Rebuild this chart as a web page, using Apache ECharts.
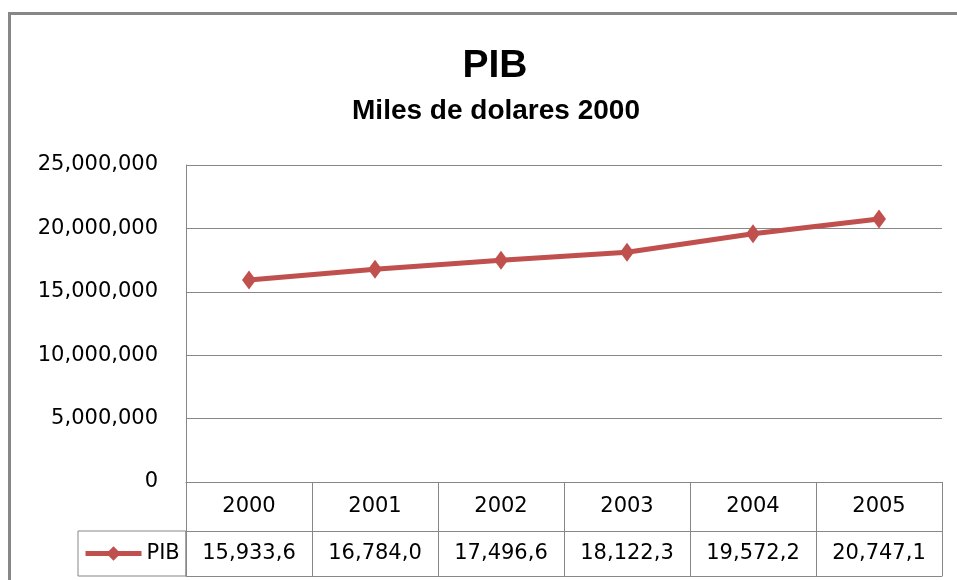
<!DOCTYPE html>
<html>
<head>
<meta charset="utf-8">
<script src="https://cdn.jsdelivr.net/npm/echarts@6/dist/echarts.min.js"></script>
<style>
html,body{margin:0;padding:0;background:#fff;}
#chart{width:957px;height:580px;}
</style>
</head>
<body>
<div id="chart"></div>
<script>
const years = ['2000', '2001', '2002', '2003', '2004', '2005'];
const pib = [15933600, 16784000, 17496600, 18122300, 19572200, 20747100];
const tableLabels = ['15,933,6', '16,784,0', '17,496,6', '18,122,3', '19,572,2', '20,747,1'];
const yTicks = [0, 5000000, 10000000, 15000000, 20000000, 25000000];

const FONT = 'DejaVu Sans';
const TFONT = 'Liberation Sans';
const GRAY = '#878787';

const chart = echarts.init(document.getElementById('chart'), null, {renderer: 'canvas'});
chart.setOption({
  backgroundColor: '#fff',
  animation: false,
  graphic: [{
    type: 'rect', z: -1, silent: true,
    shape: {x: 9.5, y: 13.5, width: 1200, height: 900},
    style: {fill: 'none', stroke: GRAY, lineWidth: 3}
  }],
  title: [{
    text: 'PIB', left: 490, top: 42, textAlign: 'center',
    textStyle: {fontFamily: TFONT, fontSize: 39, fontWeight: 'bold', color: '#000'}
  }, {
    text: 'Miles de dolares 2000', left: 491, top: 92, textAlign: 'center',
    textStyle: {fontFamily: TFONT, fontSize: 28, fontWeight: 'bold', color: '#000'}
  }],
  legend: {
    left: 78, top: 531,
    orient: 'horizontal',
    itemWidth: 56, itemHeight: 18, itemGap: 5,
    padding: [12, 6, 12, 5],
    borderColor: GRAY, borderWidth: 1,
    lineStyle: {width: 5, color: '#C0504D'},
    textStyle: {fontFamily: FONT, fontSize: 21, color: '#000', lineHeight: 21, padding: [0, 0, 0, 0]},
    data: ['PIB']
  },
  grid: {left: 186, right: 15, top: 165, bottom: 98, containLabel: false},
  xAxis: [{
    type: 'category', data: years, position: 'bottom', boundaryGap: true,
    axisLine: {show: true, lineStyle: {color: GRAY, width: 1}},
    axisTick: {show: true, interval: 0, length: 94, inside: false, lineStyle: {color: GRAY, width: 1}},
    axisLabel: {interval: 0, margin: 14, fontFamily: FONT, fontSize: 21, lineHeight: 21, color: '#000'},
    splitLine: {show: false}
  }, {
    type: 'category', data: years, position: 'bottom', offset: 49, boundaryGap: true,
    axisLine: {show: true, lineStyle: {color: GRAY, width: 1}},
    axisTick: {show: false},
    axisLabel: {interval: 0, margin: 12, fontFamily: FONT, fontSize: 21, lineHeight: 21, color: '#000',
      formatter: (v, i) => tableLabels[i]},
    splitLine: {show: false}
  }, {
    type: 'category', data: years, position: 'bottom', offset: 94, boundaryGap: true,
    axisLine: {show: true, lineStyle: {color: GRAY, width: 1}},
    axisTick: {show: false},
    axisLabel: {show: false},
    splitLine: {show: false}
  }],
  yAxis: {
    type: 'value', min: 0, max: 25000000, interval: 5000000,
    axisLine: {show: true, lineStyle: {color: GRAY, width: 1}},
    axisTick: {show: false},
    axisLabel: {margin: 28, fontFamily: FONT, fontSize: 21, color: '#000',
      formatter: v => yTicks.includes(v) ? v.toLocaleString('en-US') : ''},
    splitLine: {show: true, lineStyle: {color: GRAY, width: 1}}
  },
  series: [{
    name: 'PIB', type: 'line', xAxisIndex: 0, data: pib,
    symbol: 'diamond', symbolSize: [14, 19],
    lineStyle: {color: '#C0504D', width: 5},
    itemStyle: {color: '#C0504D'}
  }]
});
</script>
</body>
</html>
